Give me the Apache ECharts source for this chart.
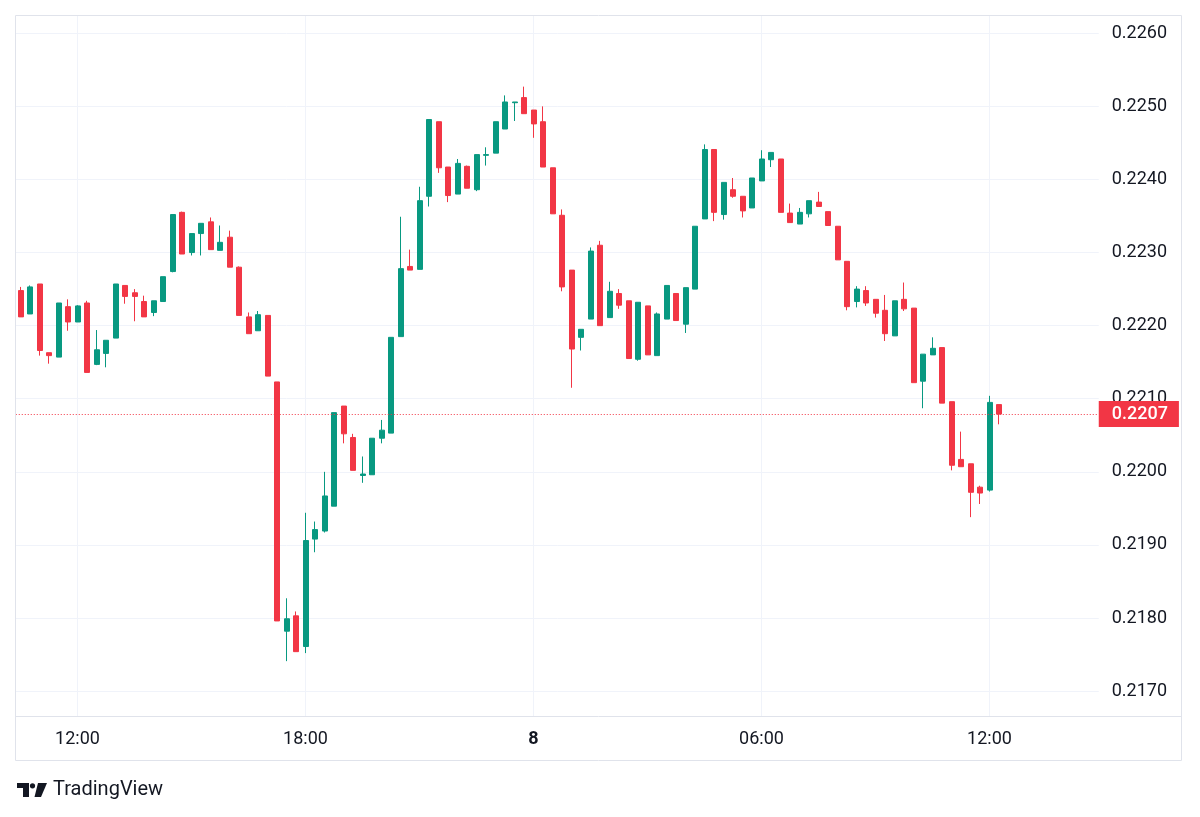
<!DOCTYPE html>
<html>
<head>
<meta charset="utf-8">
<script src="https://cdn.jsdelivr.net/npm/echarts@6/dist/echarts.min.js"></script>
<style>
html,body{margin:0;padding:0;background:#ffffff;}
#chart{width:1200px;height:817px;}
</style>
</head>
<body>
<div id="chart"></div>
<script>
// 15-minute bars, day 7 10:30 -> day 8 (plus empty slots to the right edge)
const categories = [
 "7 10:30","7 10:45","7 11:00","7 11:15","7 11:30","7 11:45","7 12:00","7 12:15","7 12:30","7 12:45",
 "7 13:00","7 13:15","7 13:30","7 13:45","7 14:00","7 14:15","7 14:30","7 14:45","7 15:00","7 15:15",
 "7 15:30","7 15:45","7 16:00","7 16:15","7 16:30","7 16:45","7 17:00","7 17:15","7 17:30","7 17:45",
 "7 18:00","7 18:15","7 18:30","7 18:45","7 19:00","7 19:15","7 19:30","7 19:45","7 20:00","7 20:15",
 "7 20:30","7 20:45","7 21:00","7 21:15","7 21:30","7 21:45","7 22:00","7 22:15","7 22:30","7 22:45",
 "7 23:00","7 23:15","7 23:30","7 23:45",
 "8 00:00","8 00:15","8 00:30","8 00:45","8 01:00","8 01:15","8 01:30","8 01:45","8 02:00","8 02:15",
 "8 02:30","8 02:45","8 03:00","8 03:15","8 03:30","8 03:45","8 04:00","8 04:15","8 04:30","8 04:45",
 "8 05:00","8 05:15","8 05:30","8 05:45","8 06:00","8 06:15","8 06:30","8 06:45","8 07:00","8 07:15",
 "8 07:30","8 07:45","8 08:00","8 08:15","8 08:30","8 08:45","8 09:00","8 09:15","8 09:30","8 09:45",
 "8 10:00","8 10:15","8 10:30","8 10:45","8 11:00","8 11:15","8 11:30","8 11:45","8 12:00","8 12:15",
 "8 12:30","8 12:45","8 13:00","8 13:15","8 13:30","8 13:45","8 14:00","8 14:15","8 14:30","8 14:45"
];
const timeTickLabels = ["7 12:00","7 18:00","8 00:00","8 06:00","8 12:00"];
const priceTicks = [0.2170,0.2180,0.2190,0.2200,0.2210,0.2220,0.2230,0.2240,0.2250,0.2260];

const openValues = [
 0.22248,0.22216,0.22257,0.22163,0.22157,0.22226,0.22205,0.22231,0.22147,0.22162,
 0.22183,0.22255,0.22245,0.22233,0.22218,0.22233,0.22274,0.22355,0.22300,0.22326,
 0.22342,0.22303,0.22321,0.22280,0.22212,0.22193,0.22214,0.22123,0.21782,0.21803,
 0.21761,0.21908,0.21919,0.21953,0.22090,0.22047,0.21995,0.21996,0.22046,0.22053,
 0.22185,0.22281,0.22277,0.22377,0.22479,0.22417,0.22380,0.22418,0.22386,0.22433,
 0.22436,0.22469,0.22505,0.22512,0.22495,0.22479,0.22416,0.22351,0.22276,0.22184,
 0.22209,0.22310,0.22211,0.22244,0.22234,0.22154,0.22227,0.22159,0.22209,0.22244,
 0.22202,0.22250,0.22346,0.22441,0.22352,0.22386,0.22377,0.22361,0.22398,0.22427,
 0.22428,0.22354,0.22339,0.22353,0.22369,0.22356,0.22336,0.22288,0.22233,0.22248,
 0.22236,0.22221,0.22186,0.22236,0.22224,0.22124,0.22160,0.22170,0.22096,0.22017,
 0.22011,0.21979,0.21975,0.22092
];
const closeValues = [
 0.22212,0.22253,0.22166,0.22159,0.22231,0.22205,0.22227,0.22136,0.22167,0.22180,
 0.22257,0.22240,0.22240,0.22212,0.22234,0.22267,0.22352,0.22298,0.22326,0.22340,
 0.22304,0.22314,0.22280,0.22214,0.22189,0.22215,0.22131,0.21796,0.21799,0.21754,
 0.21906,0.21921,0.21967,0.22081,0.22052,0.22002,0.21997,0.22046,0.22057,0.22184,
 0.22278,0.22276,0.22371,0.22482,0.22416,0.22378,0.22422,0.22388,0.22434,0.22434,
 0.22479,0.22506,0.22506,0.22490,0.22476,0.22417,0.22353,0.22253,0.22168,0.22195,
 0.22302,0.22200,0.22247,0.22228,0.22155,0.22232,0.22160,0.22216,0.22255,0.22207,
 0.22252,0.22336,0.22441,0.22355,0.22396,0.22377,0.22357,0.22402,0.22428,0.22437,
 0.22355,0.22341,0.22355,0.22371,0.22363,0.22337,0.22290,0.22226,0.22250,0.22231,
 0.22217,0.22189,0.22234,0.22223,0.22122,0.22161,0.22169,0.22094,0.22009,0.22007,
 0.21972,0.21971,0.22095,0.22079
];
const lowValues = [
 0.22212,0.22216,0.22159,0.22148,0.22157,0.22193,0.22205,0.22136,0.22146,0.22143,
 0.22183,0.22230,0.22206,0.22212,0.22213,0.22233,0.22273,0.22298,0.22296,0.22296,
 0.22304,0.22303,0.22280,0.22214,0.22189,0.22193,0.22131,0.21796,0.21741,0.21754,
 0.21752,0.21890,0.21917,0.21953,0.22039,0.22002,0.21985,0.21996,0.22039,0.22053,
 0.22185,0.22276,0.22277,0.22363,0.22409,0.22369,0.22380,0.22388,0.22384,0.22419,
 0.22436,0.22469,0.22480,0.22490,0.22457,0.22417,0.22353,0.22247,0.22115,0.22166,
 0.22209,0.22200,0.22211,0.22223,0.22155,0.22152,0.22160,0.22159,0.22209,0.22207,
 0.22190,0.22250,0.22346,0.22343,0.22345,0.22375,0.22348,0.22361,0.22398,0.22417,
 0.22355,0.22341,0.22339,0.22348,0.22363,0.22337,0.22290,0.22221,0.22225,0.22227,
 0.22211,0.22179,0.22186,0.22220,0.22122,0.22087,0.22160,0.22094,0.22002,0.22007,
 0.21938,0.21956,0.21973,0.22065
];
const highValues = [
 0.22253,0.22255,0.22257,0.22163,0.22231,0.22236,0.22228,0.22234,0.22194,0.22180,
 0.22257,0.22255,0.22250,0.22241,0.22234,0.22267,0.22352,0.22356,0.22326,0.22340,
 0.22348,0.22337,0.22330,0.22281,0.22218,0.22220,0.22214,0.22123,0.21827,0.21809,
 0.21944,0.21932,0.22000,0.22081,0.22090,0.22052,0.22021,0.22046,0.22071,0.22184,
 0.22349,0.22304,0.22390,0.22482,0.22479,0.22417,0.22428,0.22419,0.22434,0.22444,
 0.22479,0.22515,0.22506,0.22527,0.22495,0.22500,0.22416,0.22359,0.22276,0.22195,
 0.22307,0.22316,0.22260,0.22250,0.22234,0.22232,0.22227,0.22218,0.22255,0.22244,
 0.22252,0.22336,0.22448,0.22441,0.22396,0.22402,0.22377,0.22402,0.22440,0.22437,
 0.22428,0.22367,0.22361,0.22371,0.22383,0.22356,0.22336,0.22288,0.22254,0.22254,
 0.22236,0.22242,0.22234,0.22259,0.22224,0.22161,0.22184,0.22170,0.22096,0.22055,
 0.22011,0.21981,0.22104,0.22092
];

const UP = '#089981', DOWN = '#F23645', TEXT = '#131722';
const FONT = 'Roboto';
const tickSet = new Set(timeTickLabels);
const candleData = openValues.map((o, i) => [o, closeValues[i], lowValues[i], highValues[i]]);
const lastClose = closeValues[closeValues.length - 1];

const chart = echarts.init(document.getElementById('chart'), null, {renderer: 'canvas'});
chart.setOption({
  animation: false,
  backgroundColor: '#ffffff',
  grid: {left: 15.75, top: 15, width: 1083, height: 701.7, containLabel: false, outerBoundsMode: 'none'},
  xAxis: {
    type: 'category',
    data: categories,
    boundaryGap: true,
    axisLine: {show: false},
    axisTick: {show: false},
    axisLabel: {
      interval: (i, v) => tickSet.has(v),
      formatter: (v) => {
        const parts = v.split(' ');
        return parts[1] === '00:00' ? '{d|' + parts[0] + '}' : parts[1];
      },
      color: TEXT, fontSize: 18, fontFamily: FONT, margin: 14,
      rich: {d: {fontWeight: 'bold', fontSize: 18, color: TEXT, fontFamily: FONT}}
    },
    splitLine: {
      show: true,
      interval: (i, v) => tickSet.has(v),
      alignWithLabel: true,
      lineStyle: {color: '#f0f3fa', width: 1}
    }
  },
  yAxis: {
    type: 'value',
    position: 'right',
    min: 0.21665,
    max: 0.22625,
    axisLine: {show: false},
    axisTick: {show: false, customValues: priceTicks},
    axisLabel: {
      customValues: priceTicks,
      formatter: (v) => v.toFixed(4),
      margin: 13, color: TEXT, fontSize: 18, fontFamily: FONT
    },
    splitLine: {show: true, lineStyle: {color: '#f0f3fa', width: 1}}
  },
  series: [{
    type: 'candlestick',
    data: candleData,
    barWidth: 5.5,
    itemStyle: {color: UP, color0: DOWN, borderColor: UP, borderColor0: DOWN, borderWidth: 1},
    emphasis: {disabled: true},
    markLine: {
      silent: true,
      precision: 6,
      symbol: ['none', 'none'],
      lineStyle: {color: DOWN, type: [1, 2], width: 1},
      label: {
        show: true, position: 'end', distance: 0,
        formatter: (p) => (Math.floor(p.value * 1e4 + 1e-9) / 1e4).toFixed(4),
        backgroundColor: DOWN, color: '#ffffff', fontSize: 18, fontFamily: FONT, fontWeight: 500,
        padding: [3, 11, 3, 13], lineHeight: 20
      },
      emphasis: {disabled: true},
      data: [{yAxis: lastClose}]
    }
  }],
  graphic: [
    {type: 'rect', silent: true, z: 100,
     shape: {x: 15.5, y: 15.5, width: 1166, height: 745},
     style: {fill: 'none', stroke: '#e0e3eb', lineWidth: 1}},
    {type: 'line', silent: true, z: 100,
     shape: {x1: 15.5, y1: 716.5, x2: 1181.5, y2: 716.5},
     style: {stroke: '#e0e3eb', lineWidth: 1}},
    {type: 'rect', silent: true, shape: {x: 17, y: 783, width: 12, height: 5}, style: {fill: TEXT}},
    {type: 'rect', silent: true, shape: {x: 23, y: 783, width: 6, height: 14}, style: {fill: TEXT}},
    {type: 'circle', silent: true, shape: {cx: 32.5, cy: 785.8, r: 2.6}, style: {fill: TEXT}},
    {type: 'polygon', silent: true, shape: {points: [[38, 783], [47, 783], [41, 797], [34.5, 797]]}, style: {fill: TEXT}},
    {type: 'text', silent: true, x: 53, y: 790,
     style: {text: 'TradingView', fontSize: 20, fontFamily: FONT, fill: TEXT, verticalAlign: 'middle', align: 'left'}}
  ]
});
</script>
</body>
</html>
